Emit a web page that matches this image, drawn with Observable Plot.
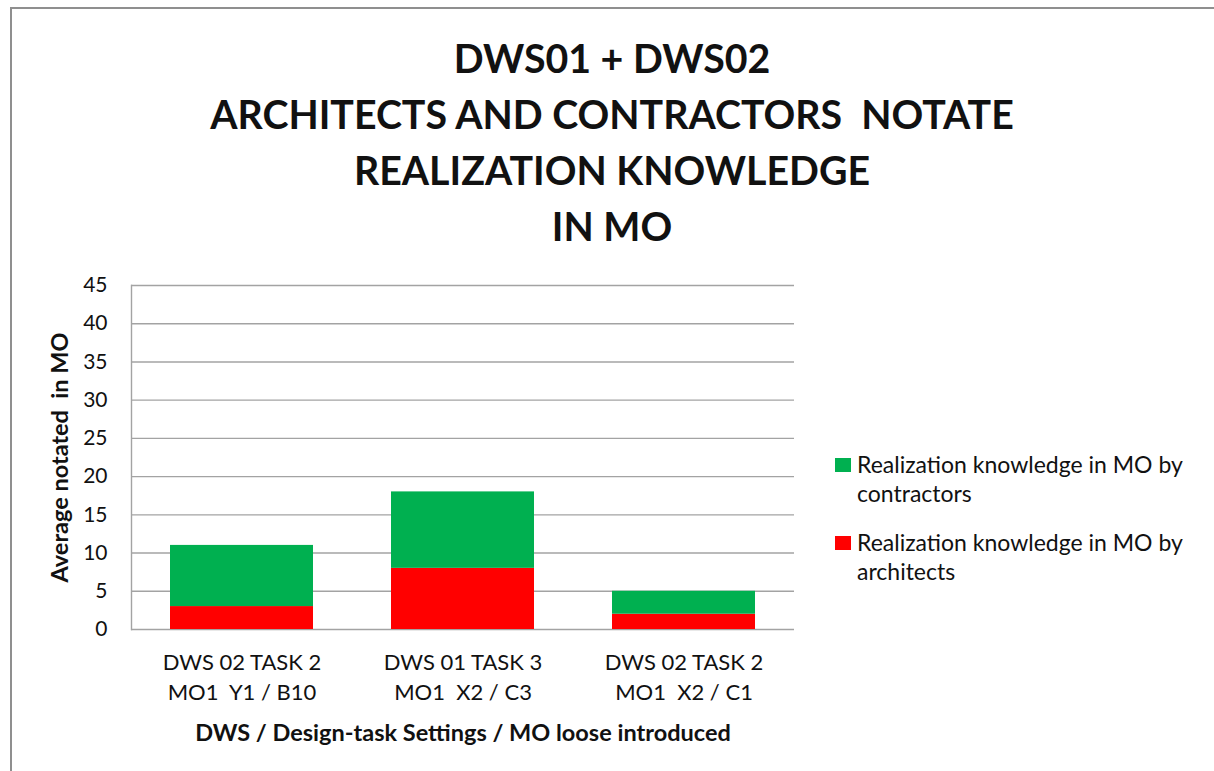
<!DOCTYPE html>
<html>
<head>
<meta charset="utf-8">
<script src="https://cdn.jsdelivr.net/npm/d3@7"></script>
<script src="https://cdn.jsdelivr.net/npm/@observablehq/plot@0.6"></script>
<style>
  html, body { margin: 0; padding: 0; background: #fff; }
  #wrap { position: relative; width: 1214px; height: 771px; overflow: hidden; font-family: Lato, "Open Sans", sans-serif; color: #111; }
  #frame { position: absolute; left: 10px; top: 7px; width: 1400px; height: 900px; border-left: 2px solid #8f8f8f; border-top: 2px solid #8f8f8f; }
  #title { position: absolute; left: 0; top: 30px; width: 1224px; text-align: center; font-weight: 700; font-size: 39.3px; line-height: 56px; white-space: pre; }
  #chart { position: absolute; left: 0; top: 265px; }
  #legend { position: absolute; left: 835px; top: 450px; font-size: 23px; line-height: 29px; }
  .item { position: relative; padding-left: 22px; margin-bottom: 20px; }
  .sw { position: absolute; left: 0; top: 8px; width: 16px; height: 14px; }
  #chart g[aria-label="x-axis label"] text { font-weight: 700; font-size: 23.5px; }
  #chart g[aria-label="y-axis label"] text { font-weight: 700; font-size: 23.5px; }
</style>
</head>
<body>
<div id="wrap">
  <div id="frame"></div>
  <div id="title"></div>
  <div id="chart"></div>
  <div id="legend"></div>
</div>
<script>
const titleLines = ["DWS01 + DWS02", "ARCHITECTS AND CONTRACTORS  NOTATE", "REALIZATION KNOWLEDGE", "IN MO"];
const categories = ["DWS 02 TASK 2\nMO1  Y1 / B10", "DWS 01 TASK 3\nMO1  X2 / C3", "DWS 02 TASK 2\nMO1  X2 / C1"];
const seriesNames = ["Realization knowledge in MO by architects", "Realization knowledge in MO by contractors"];
const architects = [3, 8, 2];
const contractors = [8, 10, 3];
const seriesColors = ["#ff0000", "#00b050"];
const yTicks = [0, 5, 10, 15, 20, 25, 30, 35, 40, 45];
const legendOrder = [1, 0];
const legendLabels = ["Realization knowledge in MO by\narchitects", "Realization knowledge in MO by\ncontractors"];
const xLabel = "DWS / Design-task Settings / MO loose introduced";
const yLabel = "Average notated  in MO";

document.getElementById("title").textContent = titleLines.join("\n");

const rows = categories.flatMap((c, i) => [
  {category: c, series: seriesNames[0], value: architects[i]},
  {category: c, series: seriesNames[1], value: contractors[i]}
]);

const chart = Plot.plot({
  width: 1214,
  height: 506,
  marginLeft: 131,
  marginRight: 420,
  marginTop: 20,
  marginBottom: 142,
  style: {fontFamily: "Lato, 'Open Sans', sans-serif", fontSize: "21px", color: "#111", background: "transparent", overflow: "visible"},
  x: {domain: categories, paddingInner: 0.353, paddingOuter: 0.1765},
  y: {domain: [0, 45]},
  color: {domain: seriesNames, range: seriesColors},
  marks: [
    Plot.gridY(yTicks, {stroke: "#a3a3a3", strokeOpacity: 1, strokeWidth: 1.4}),
    Plot.frame({anchor: "left", stroke: "#a3a3a3", strokeWidth: 1.4}),
    Plot.barY(rows, Plot.stackY({x: "category", y: "value", fill: "series", order: seriesNames})),
    Plot.axisY(yTicks, {tickSize: 0, tickPadding: 24, fontSize: 21, label: yLabel, labelAnchor: "center", labelOffset: 80, labelArrow: false}),
    Plot.axisX({tickSize: 0, tickPadding: 19, fontSize: 22, lineHeight: 1.36, label: xLabel, labelAnchor: "center", labelOffset: 111, labelArrow: false})
  ]
});
document.getElementById("chart").appendChild(chart);

const legend = document.getElementById("legend");
legendOrder.forEach(k => {
  const item = document.createElement("div");
  item.className = "item";
  const sw = document.createElement("span");
  sw.className = "sw";
  sw.style.background = seriesColors[k];
  item.appendChild(sw);
  const t = document.createElement("div");
  t.style.whiteSpace = "pre";
  t.textContent = legendLabels[k];
  item.appendChild(t);
  legend.appendChild(item);
});
</script>
</body>
</html>
